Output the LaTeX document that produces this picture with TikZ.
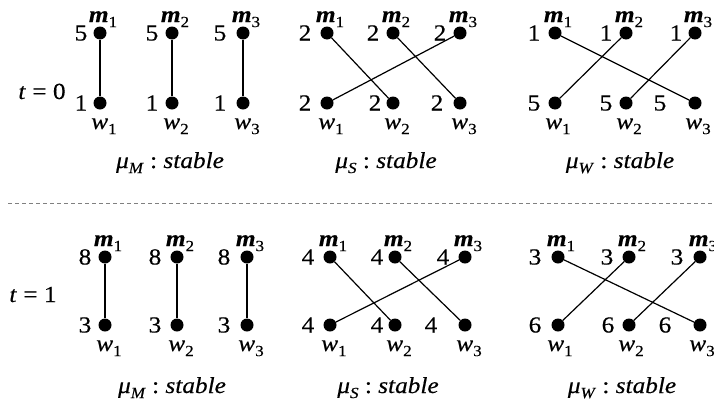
\documentclass[tikz,border=0pt]{standalone}
\usepackage{fontspec}
\setmainfont{Liberation Serif}[FakeStretch=1.1,FakeBold=0.4]
\newcommand\lsub[1]{\raisebox{-0.22em}{\fontsize{15.5}{15.5}\selectfont #1}}
\tikzset{
  txt/.style={inner sep=0pt,font=\fontsize{23}{23}\selectfont},
  dot/.style={circle,fill=black,inner sep=0pt,minimum size=13pt},
  num/.style={txt,anchor=base},
  mlab/.style={txt,anchor=base},
  wlab/.style={txt,anchor=base},
  captext/.style={txt,anchor=base},
  edge/.style={line width=1.2pt,black},
  sep/.style={gray,line width=0.9pt,dash pattern=on 4pt off 3pt}
}
\begin{document}
\begin{tikzpicture}[x=1pt,y=-1pt]
\useasboundingbox (0,0) rectangle (714,402);
% ---------------- t = 0 ----------------
\node[captext] (t0) at (42,99) {\textit{t}\;=\;0};
% group 1
\foreach \i/\x/\a/\b in {1/100/81/81, 2/172/152/152, 3/243/220/220}{
  \node[dot] (m01\i) at (\x,33) {};
  \node[dot] (w01\i) at (\x,103) {};
  \node[num] (nm01\i) at (\a,40.5) {5};
  \node[num] (nw01\i) at (\b,110.5) {1};
  \node[mlab] (lm01\i) at (\x+3,22) {\textbf{\textit{m}}\lsub{\i}};
  \node[wlab] (lw01\i) at (\x+4,129) {\textit{w}\lsub{\i}};
}
% group 2
\foreach \i/\x/\a/\b in {1/327/305/305, 2/393/373/375, 3/460/440/437}{
  \node[dot] (m02\i) at (\x,33) {};
  \node[dot] (w02\i) at (\x,103) {};
  \node[num] (nm02\i) at (\a,40.5) {2};
  \node[num] (nw02\i) at (\b,110.5) {2};
  \node[mlab] (lm02\i) at (\x+3,22) {\textbf{\textit{m}}\lsub{\i}};
  \node[wlab] (lw02\i) at (\x+4,129) {\textit{w}\lsub{\i}};
}
% group 3
\foreach \i/\x/\a/\b in {1/555/534/534, 2/626/606/606, 3/695/676/660}{
  \node[dot] (m03\i) at (\x,33) {};
  \node[dot] (w03\i) at (\x,103) {};
  \node[num] (nm03\i) at (\a,40.5) {1};
  \node[num] (nw03\i) at (\b,110.5) {5};
  \node[mlab] (lm03\i) at (\x+3,22) {\textbf{\textit{m}}\lsub{\i}};
  \node[wlab] (lw03\i) at (\x+3,129) {\textit{w}\lsub{\i}};
}
\draw[edge] (m011) -- (w011);
\draw[edge] (m012) -- (w012);
\draw[edge] (m013) -- (w013);
\draw[edge] (m021) -- (w022);
\draw[edge] (m022) -- (w023);
\draw[edge] (m023) -- (w021);
\draw[edge] (m031) -- (w033);
\draw[edge] (m032) -- (w031);
\draw[edge] (m033) -- (w032);
\node[captext] (c01) at (170,168) {\textit{μ}\lsub{\textit{M}}~:~\textit{stable}};
\node[captext] (c02) at (386,168) {\textit{μ}\lsub{\textit{S}}~:~\textit{stable}};
\node[captext] (c03) at (620,168) {\textit{μ}\lsub{\textit{W}}~:~\textit{stable}};
% separator
\coordinate (sl) at (8,203);
\coordinate (sr) at (714,203);
\draw[sep] (sl) -- (sr);
% ---------------- t = 1 ----------------
\node[captext] (t1) at (33,302) {\textit{t}\;=\;1};
\foreach \i/\x/\a/\b in {1/105/85/85, 2/177/155/155, 3/247/224/224}{
  \node[dot] (m11\i) at (\x,257) {};
  \node[dot] (w11\i) at (\x,325) {};
  \node[num] (nm11\i) at (\a,264.5) {8};
  \node[num] (nw11\i) at (\b,332.5) {3};
  \node[mlab] (lm11\i) at (\x+3,246) {\textbf{\textit{m}}\lsub{\i}};
  \node[wlab] (lw11\i) at (\x+4,351) {\textit{w}\lsub{\i}};
}
\foreach \i/\x/\a/\b in {1/330/308/308, 2/395/377/377, 3/465/443/431}{
  \node[dot] (m12\i) at (\x,257) {};
  \node[dot] (w12\i) at (\x,325) {};
  \node[num] (nm12\i) at (\a,264.5) {4};
  \node[num] (nw12\i) at (\b,332.5) {4};
  \node[mlab] (lm12\i) at (\x+3,246) {\textbf{\textit{m}}\lsub{\i}};
  \node[wlab] (lw12\i) at (\x+4,351) {\textit{w}\lsub{\i}};
}
\foreach \i/\x/\a/\b in {1/558/535/535, 2/629/607/608, 3/700/677/665}{
  \node[dot] (m13\i) at (\x,257) {};
  \node[dot] (w13\i) at (\x,325) {};
  \node[num] (nm13\i) at (\a,264.5) {3};
  \node[num] (nw13\i) at (\b,332.5) {6};
  \node[mlab] (lm13\i) at (\x+3,246) {\textbf{\textit{m}}\lsub{\i}};
  \node[wlab] (lw13\i) at (\x+2,351) {\textit{w}\lsub{\i}};
}
\draw[edge] (m111) -- (w111);
\draw[edge] (m112) -- (w112);
\draw[edge] (m113) -- (w113);
\draw[edge] (m121) -- (w122);
\draw[edge] (m122) -- (w123);
\draw[edge] (m123) -- (w121);
\draw[edge] (m131) -- (w133);
\draw[edge] (m132) -- (w131);
\draw[edge] (m133) -- (w132);
\node[captext] (c11) at (172,393) {\textit{μ}\lsub{\textit{M}}~:~\textit{stable}};
\node[captext] (c12) at (388,393) {\textit{μ}\lsub{\textit{S}}~:~\textit{stable}};
\node[captext] (c13) at (622,393) {\textit{μ}\lsub{\textit{W}}~:~\textit{stable}};
\end{tikzpicture}
\end{document}
